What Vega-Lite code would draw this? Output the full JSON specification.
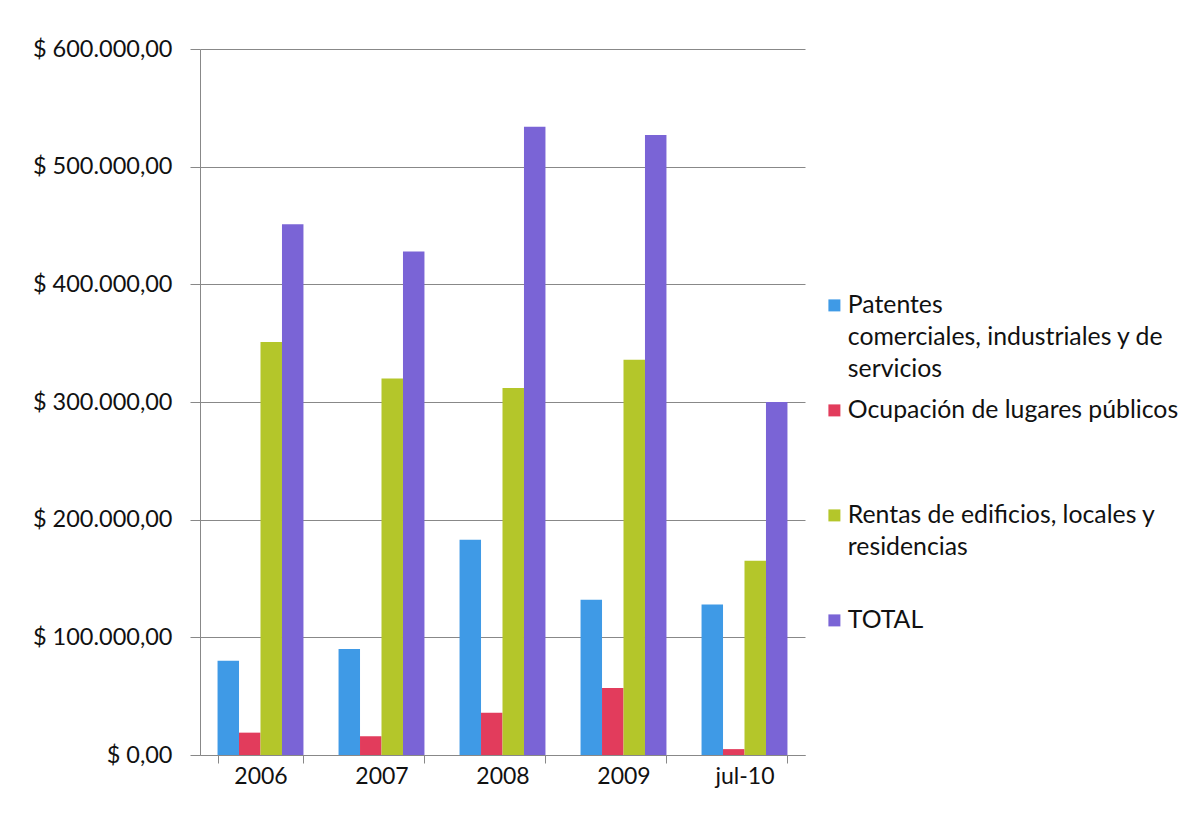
{
  "$schema": "https://vega.github.io/schema/vega-lite/v6.json",
  "autosize": "none",
  "width": 605,
  "height": 706,
  "padding": {"left": 200, "top": 49, "right": 380, "bottom": 81},
  "background": "white",
  "data": {
    "values": [
      {"periodo": "2006", "serie": "Patentes comerciales, industriales y de servicios", "valor": 80000},
      {"periodo": "2006", "serie": "Ocupación de lugares públicos", "valor": 19000},
      {"periodo": "2006", "serie": "Rentas de edificios, locales y residencias", "valor": 351000},
      {"periodo": "2006", "serie": "TOTAL", "valor": 451000},
      {"periodo": "2007", "serie": "Patentes comerciales, industriales y de servicios", "valor": 90000},
      {"periodo": "2007", "serie": "Ocupación de lugares públicos", "valor": 16000},
      {"periodo": "2007", "serie": "Rentas de edificios, locales y residencias", "valor": 320000},
      {"periodo": "2007", "serie": "TOTAL", "valor": 428000},
      {"periodo": "2008", "serie": "Patentes comerciales, industriales y de servicios", "valor": 183000},
      {"periodo": "2008", "serie": "Ocupación de lugares públicos", "valor": 36000},
      {"periodo": "2008", "serie": "Rentas de edificios, locales y residencias", "valor": 312000},
      {"periodo": "2008", "serie": "TOTAL", "valor": 534000},
      {"periodo": "2009", "serie": "Patentes comerciales, industriales y de servicios", "valor": 132000},
      {"periodo": "2009", "serie": "Ocupación de lugares públicos", "valor": 57000},
      {"periodo": "2009", "serie": "Rentas de edificios, locales y residencias", "valor": 336000},
      {"periodo": "2009", "serie": "TOTAL", "valor": 527000},
      {"periodo": "jul-10", "serie": "Patentes comerciales, industriales y de servicios", "valor": 128000},
      {"periodo": "jul-10", "serie": "Ocupación de lugares públicos", "valor": 5000},
      {"periodo": "jul-10", "serie": "Rentas de edificios, locales y residencias", "valor": 165000},
      {"periodo": "jul-10", "serie": "TOTAL", "valor": 300000}
    ]
  },
  "mark": {"type": "bar"},
  "encoding": {
    "x": {
      "field": "periodo",
      "type": "nominal",
      "sort": null,
      "scale": {"paddingInner": 0.29, "paddingOuter": 0.145},
      "axis": {
        "title": null,
        "labelAngle": 0,
        "labelFont": "Lato",
        "labelFontSize": 23,
        "labelColor": "#111111",
        "labelPadding": 2,
        "tickBand": "extent",
        "tickSize": 8,
        "tickColor": "#888888",
        "domainColor": "#888888",
        "grid": false
      }
    },
    "xOffset": {
      "field": "serie",
      "type": "nominal",
      "sort": null,
      "scale": {"paddingInner": 0, "paddingOuter": 0}
    },
    "y": {
      "field": "valor",
      "type": "quantitative",
      "scale": {"domain": [0, 600000], "nice": false},
      "axis": {
        "title": null,
        "values": [0, 100000, 200000, 300000, 400000, 500000, 600000],
        "format": "$,.2f",
        "labelFont": "Lato",
        "labelFontSize": 23.5,
        "labelColor": "#111111",
        "labelPadding": 18,
        "tickSize": 10,
        "tickColor": "#888888",
        "domainColor": "#888888",
        "gridColor": "#888888",
        "gridOpacity": 1
      }
    },
    "color": {
      "field": "serie",
      "type": "nominal",
      "scale": {
        "domain": [
          "Patentes comerciales, industriales y de servicios",
          "Ocupación de lugares públicos",
          "Rentas de edificios, locales y residencias",
          "TOTAL"
        ],
        "range": ["#3f9ae6", "#e23c5c", "#b4c62a", "#7a64d6"]
      },
      "legend": {
        "title": null,
        "orient": "none",
        "legendX": 622,
        "legendY": 244,
        "symbolType": "square",
        "symbolSize": 144,
        "symbolStrokeWidth": 0,
        "symbolOpacity": 1,
        "labelFont": "Lato",
        "labelFontSize": 24.8,
        "labelColor": "#111111",
        "labelLimit": 500,
        "labelOffset": 1,
        "labelBaseline": "top",
        "rowPadding": 15,
        "labelExpr": "datum.label == 'Patentes comerciales, industriales y de servicios' ? ['Patentes', 'comerciales, industriales y de', 'servicios'] : datum.label == 'Rentas de edificios, locales y residencias' ? ['Rentas de edificios, locales y', 'residencias', ''] : [datum.label, '', '']",
        "encode": {"labels": {"update": {"dy": {"value": -12}}}}
      }
    }
  },
  "config": {
    "locale": {
      "number": {"decimal": ",", "thousands": ".", "grouping": [3], "currency": ["$ ", ""]}
    },
    "style": {"guide-label": {"lineHeight": 32}},
    "view": {"stroke": null}
  }
}
